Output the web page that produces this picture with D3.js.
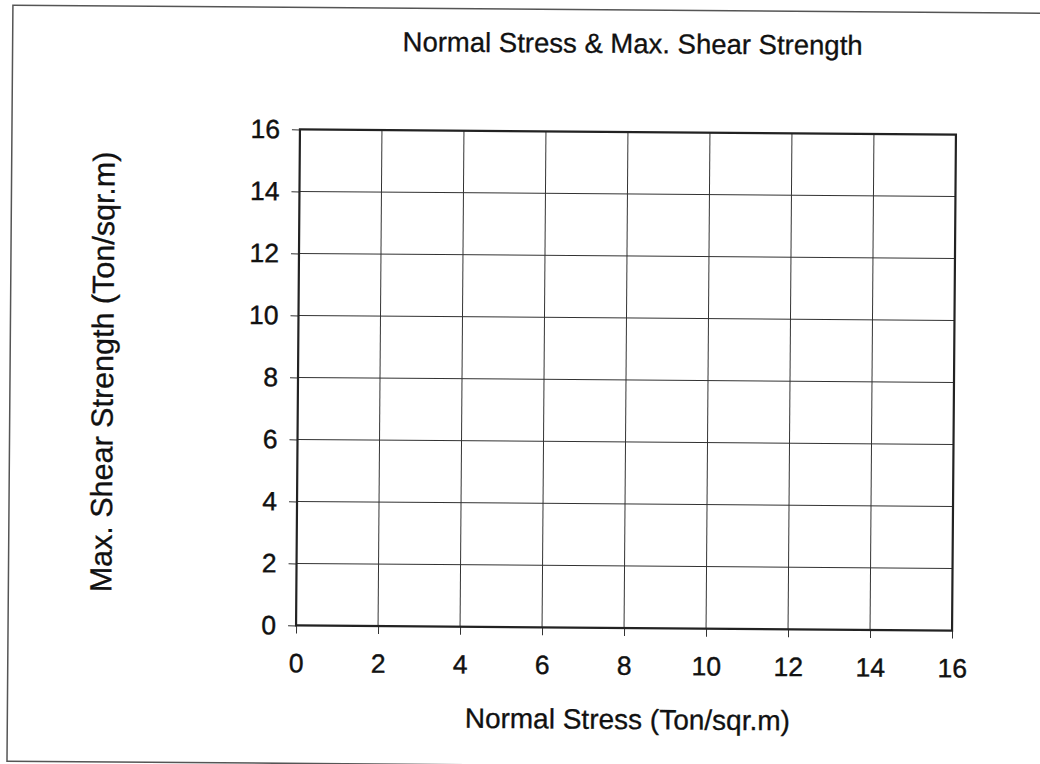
<!DOCTYPE html>
<html>
<head>
<meta charset="utf-8">
<script src="https://cdn.jsdelivr.net/npm/d3@7"></script>
<style>
  html, body { margin: 0; padding: 0; background: #fff; }
  svg { display: block; }
  text { font-family: "Liberation Sans", Arial, sans-serif; fill: #111; }
</style>
</head>
<body>
<svg id="chart" width="1040" height="764"></svg>
<script>
// ---- data ----
const chartTitle = "Normal Stress & Max. Shear Strength";
const xAxisTitle = "Normal Stress (Ton/sqr.m)";
const yAxisTitle = "Max. Shear Strength (Ton/sqr.m)";
const xDomain = [0, 16];
const yDomain = [0, 16];
const xTickValues = [0, 2, 4, 6, 8, 10, 12, 14, 16];
const yTickValues = [0, 2, 4, 6, 8, 10, 12, 14, 16];
const seriesPoints = []; // the chart contains no plotted data

// ---- layout ----
const plot = { left: 298, right: 954, top: 132, bottom: 628 };
const tilt = 0.45; // the scanned page is slightly rotated

const svg = d3.select("#chart");
const root = svg.append("g").attr("transform", `rotate(${tilt}, 626, 380)`);

// outer frame
root.append("rect")
  .attr("x", 10).attr("y", 10)
  .attr("width", 1040).attr("height", 756)
  .attr("fill", "none").attr("stroke", "#555").attr("stroke-width", 1.5);

const x = d3.scaleLinear().domain(xDomain).range([plot.left, plot.right]);
const y = d3.scaleLinear().domain(yDomain).range([plot.bottom, plot.top]);

// gridlines
const grid = root.append("g");
grid.selectAll("line.v").data(xTickValues.filter(d => d > xDomain[0] && d < xDomain[1]))
  .join("line").attr("class", "v")
  .attr("x1", d => x(d)).attr("x2", d => x(d))
  .attr("y1", plot.top).attr("y2", plot.bottom)
  .attr("stroke", "#333").attr("stroke-width", 1);
grid.selectAll("line.h").data(yTickValues.filter(d => d > yDomain[0] && d < yDomain[1]))
  .join("line").attr("class", "h")
  .attr("x1", plot.left).attr("x2", plot.right)
  .attr("y1", d => y(d)).attr("y2", d => y(d))
  .attr("stroke", "#333").attr("stroke-width", 1);

// axes
const xAxis = root.append("g")
  .attr("transform", `translate(0,${plot.bottom})`)
  .call(d3.axisBottom(x).tickValues(xTickValues).tickSize(8).tickPadding(20).tickFormat(d3.format("d")));
const yAxis = root.append("g")
  .attr("transform", `translate(${plot.left},0)`)
  .call(d3.axisLeft(y).tickValues(yTickValues).tickSize(8).tickPadding(12).tickFormat(d3.format("d")));
[xAxis, yAxis].forEach(a => {
  a.select(".domain").remove();
  a.selectAll(".tick line").attr("stroke", "#333").attr("stroke-width", 1);
  a.selectAll(".tick text")
    .attr("font-family", '"Liberation Sans", Arial, sans-serif')
    .attr("font-size", 26.5).attr("fill", "#111")
    .attr("stroke", "#111").attr("stroke-width", 0.4);
});

// plot frame
root.append("rect")
  .attr("x", plot.left).attr("y", plot.top)
  .attr("width", plot.right - plot.left).attr("height", plot.bottom - plot.top)
  .attr("fill", "none").attr("stroke", "#222").attr("stroke-width", 2.2);

// data (none)
root.append("g").selectAll("circle").data(seriesPoints).join("circle")
  .attr("cx", d => x(d[0])).attr("cy", d => y(d[1])).attr("r", 4);

// titles
const titleStyle = sel => sel.attr("stroke", "#111").attr("stroke-width", 0.3);
root.append("text")
  .attr("x", 630).attr("y", 53)
  .attr("text-anchor", "middle").attr("font-size", 27.5)
  .call(titleStyle)
  .text(chartTitle);
root.append("text")
  .attr("x", 630).attr("y", 729)
  .attr("text-anchor", "middle").attr("font-size", 28)
  .call(titleStyle)
  .text(xAxisTitle);
root.append("text")
  .attr("transform", "translate(113,376) rotate(-90)")
  .attr("text-anchor", "middle").attr("font-size", 30.5)
  .call(titleStyle)
  .text(yAxisTitle);
</script>
</body>
</html>
